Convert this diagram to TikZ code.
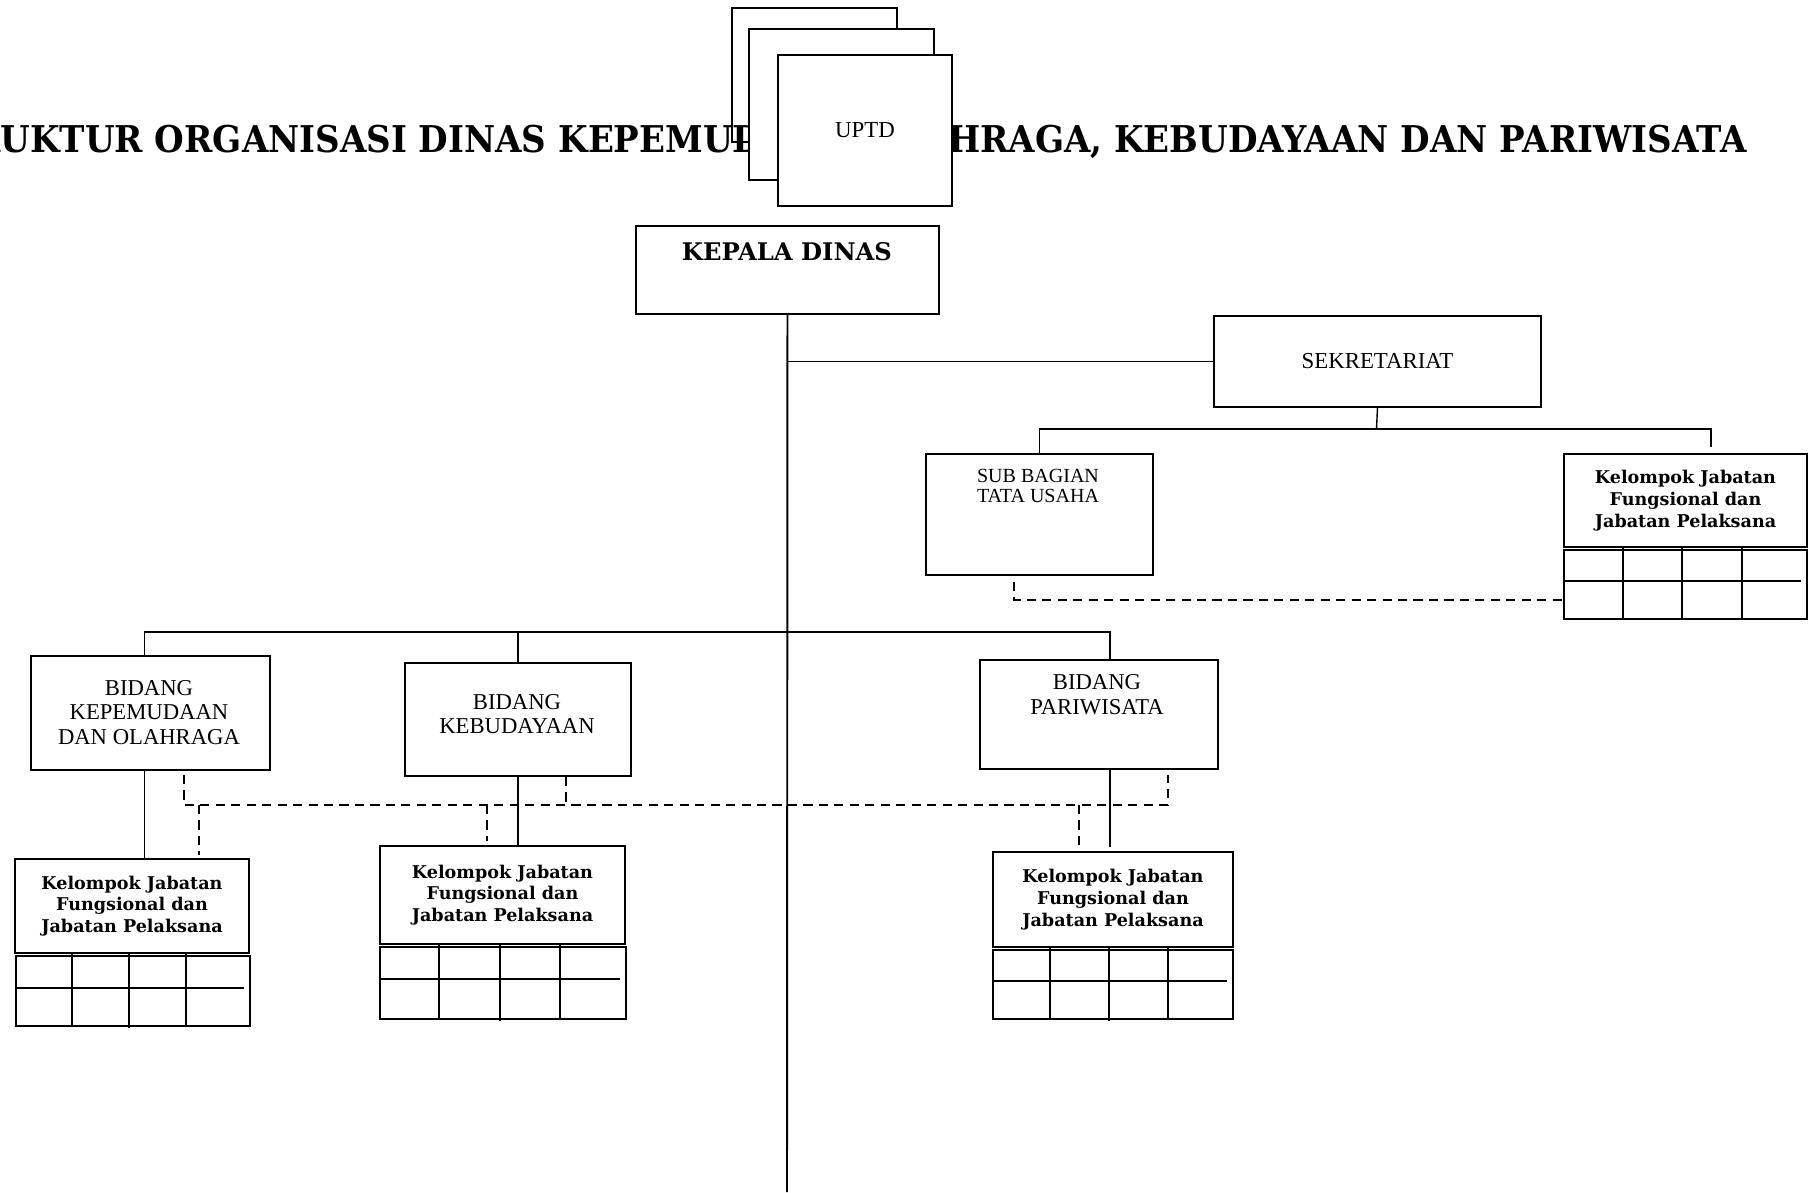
\documentclass[tikz,border=0pt]{standalone}
\usepackage{fontspec}
\setmainfont{Liberation Serif}
\newfontfamily\bookman{DejaVu Serif}

\tikzset{
  box/.style={draw, line width=1.1pt, fill=white, inner sep=0pt, anchor=north west, align=center},
  tbl/.style={draw, line width=1.1pt, inner sep=0pt, anchor=north west},
  txt/.style={inner sep=0pt, align=center, font=\fontsize{12.9}{14}\selectfont},
  kjf/.style={box, font=\bookman\bfseries\fontsize{10}{12.4}\selectfont},
  garis/.style={line width=0.8pt},
  putus/.style={line width=0.9pt, dash pattern=on 5.2pt off 3.6pt}
}

\begin{document}
\begin{tikzpicture}
    \useasboundingbox (0,0) rectangle (36.2,-23.84);

    % UPTD stack and title
    \node[box, minimum width=3.30cm, minimum height=2.68cm] (uptdA) at (14.62,-0.14) {};
    \node[inner sep=0pt, anchor=base east, font=\bookman\bfseries\fontsize{21}{25}\selectfont] (judul) at (34.94,-3.04)
        {\scalebox{0.923}[1]{STRUKTUR ORGANISASI DINAS KEPEMUDAAN, OLAHRAGA, KEBUDAYAAN DAN PARIWISATA}};
    \node[box, minimum width=3.70cm, minimum height=3.02cm] (uptdB) at (14.96,-0.56) {};
    \node[box, minimum width=3.48cm, minimum height=3.02cm, font=\fontsize{13}{14}\selectfont] (uptdC) at (15.54,-1.08) {UPTD};

    % Kepala dinas and sekretariat
    \node[box, minimum width=6.06cm, minimum height=1.76cm] (kepala) at (12.70,-4.50) {};
    \node[txt, font=\bookman\bfseries\fontsize{13.8}{15}\selectfont] (tKepala) at (15.74,-5.04) {KEPALA DINAS};
    \node[box, minimum width=6.54cm, minimum height=1.82cm, font=\fontsize{13}{14}\selectfont] (sekre) at (24.26,-6.30) {SEKRETARIAT};
    \node[box, minimum width=4.54cm, minimum height=2.42cm] (subbag) at (18.50,-9.06) {};
    \node[txt, font=\fontsize{11.4}{11.6}\selectfont] (tSubbag) at (20.76,-9.72) {SUB BAGIAN\\TATA USAHA};
    \node[kjf, minimum width=4.86cm, minimum height=1.86cm] (kjfS) at (31.26,-9.06) {Kelompok Jabatan\\Fungsional dan\\Jabatan Pelaksana};
    \node[tbl, minimum width=4.86cm, minimum height=1.38cm] (tabS) at (31.26,-10.98) {};

    % Bidang
    \node[box, minimum width=4.78cm, minimum height=2.28cm] (bKpo) at (0.60,-13.10) {};
    \node[txt] (tKpo) at (2.98,-14.25) {BIDANG\\KEPEMUDAAN\\DAN OLAHRAGA};
    \node[box, minimum width=4.52cm, minimum height=2.26cm] (bBud) at (8.08,-13.24) {};
    \node[txt] (tBud) at (10.34,-14.28) {BIDANG\\KEBUDAYAAN};
    \node[box, minimum width=4.76cm, minimum height=2.18cm] (bPar) at (19.58,-13.18) {};
    \node[txt] (tPar) at (21.94,-13.89) {BIDANG\\PARIWISATA};

    % Kelompok jabatan under bidang
    \node[kjf, minimum width=4.68cm, minimum height=1.88cm] (kjf1) at (0.28,-17.16) {Kelompok Jabatan\\Fungsional dan\\Jabatan Pelaksana};
    \node[tbl, minimum width=4.68cm, minimum height=1.40cm] (tab1) at (0.30,-19.10) {};
    \node[kjf, minimum width=4.90cm, minimum height=1.96cm] (kjf2) at (7.58,-16.90) {Kelompok Jabatan\\Fungsional dan\\Jabatan Pelaksana};
    \node[tbl, minimum width=4.92cm, minimum height=1.44cm] (tab2) at (7.58,-18.92) {};
    \node[kjf, minimum width=4.80cm, minimum height=1.90cm] (kjf3) at (19.84,-17.02) {Kelompok Jabatan\\Fungsional dan\\Jabatan Pelaksana};
    \node[tbl, minimum width=4.80cm, minimum height=1.38cm] (tab3) at (19.84,-18.98) {};

    % Table lines
    \draw[garis] (31.26,-11.62) -- (36.02,-11.62) (32.46,-10.92) -- (32.46,-12.36) (33.64,-10.92) -- (33.64,-12.40) (34.84,-10.92) -- (34.84,-12.36);
    \draw[garis] (0.30,-19.76) -- (4.88,-19.76) (1.44,-19.04) -- (1.44,-20.50) (2.58,-19.04) -- (2.58,-20.56) (3.72,-19.04) -- (3.72,-20.50);
    \draw[garis] (7.58,-19.58) -- (12.40,-19.58) (8.78,-18.86) -- (8.78,-20.36) (10.00,-18.86) -- (10.00,-20.42) (11.20,-18.86) -- (11.20,-20.36);
    \draw[garis] (19.84,-19.62) -- (24.54,-19.62) (21.00,-18.92) -- (21.00,-20.36) (22.18,-18.92) -- (22.18,-20.42) (23.36,-18.92) -- (23.36,-20.36);

    % Solid lines
    \coordinate (bawah) at (15.74,-23.84);
    \coordinate (sbus) at (27.53,-8.58);
    \coordinate (kjfStop) at (34.22,-8.94);
    \coordinate (bbus) at (15.74,-12.64);
    \draw[line width=1.1pt] (kepala.south) -- (bawah);
    \draw[garis] (sekre.west) -- (sekre.west -| kepala.south);
    \draw[garis] (sekre.south) -- (sbus);
    \draw[garis] (subbag.north) |- (kjfStop |- sbus) -- (kjfStop);
    \draw[garis] ([xshift=-0.12cm]bKpo.north) |- (bbus) -| ([xshift=0.22cm]bPar.north);
    \draw[garis] (bBud.north) -- (bBud.north |- bbus);
    \draw[garis] ([xshift=-0.12cm]bKpo.south) -- ([xshift=-0.12cm]bKpo.south |- kjf1.north);
    \draw[garis] (bBud.south) -- (bBud.south |- kjf2.north);
    \draw[garis] ([xshift=0.22cm]bPar.south) -- ([xshift=0.22cm,yshift=0.08cm]bPar.south |- kjf3.north);

    % Dashed lines
    \coordinate (dbus) at (15.74,-16.10);
    \draw[putus] ([xshift=-0.51cm,yshift=-0.12cm]subbag.south) |- ([yshift=-0.31cm]tabS.west);
    \draw[putus] ([xshift=0.67cm,yshift=-0.08cm]bKpo.south) |- (dbus) -| ([xshift=1.38cm,yshift=-0.10cm]bPar.south);
    \draw[putus] ([xshift=0.96cm]bBud.south) -- ([xshift=0.96cm]bBud.south |- dbus);
    \draw[putus] ([xshift=1.34cm]kjf1.north |- dbus) -- ([xshift=1.34cm,yshift=0.06cm]kjf1.north);
    \draw[putus] ([xshift=-0.31cm]kjf2.north |- dbus) -- ([xshift=-0.31cm,yshift=0.08cm]kjf2.north);
    \draw[putus] ([xshift=-0.68cm]kjf3.north |- dbus) -- ([xshift=-0.68cm,yshift=0.10cm]kjf3.north);
\end{tikzpicture}
\end{document}
